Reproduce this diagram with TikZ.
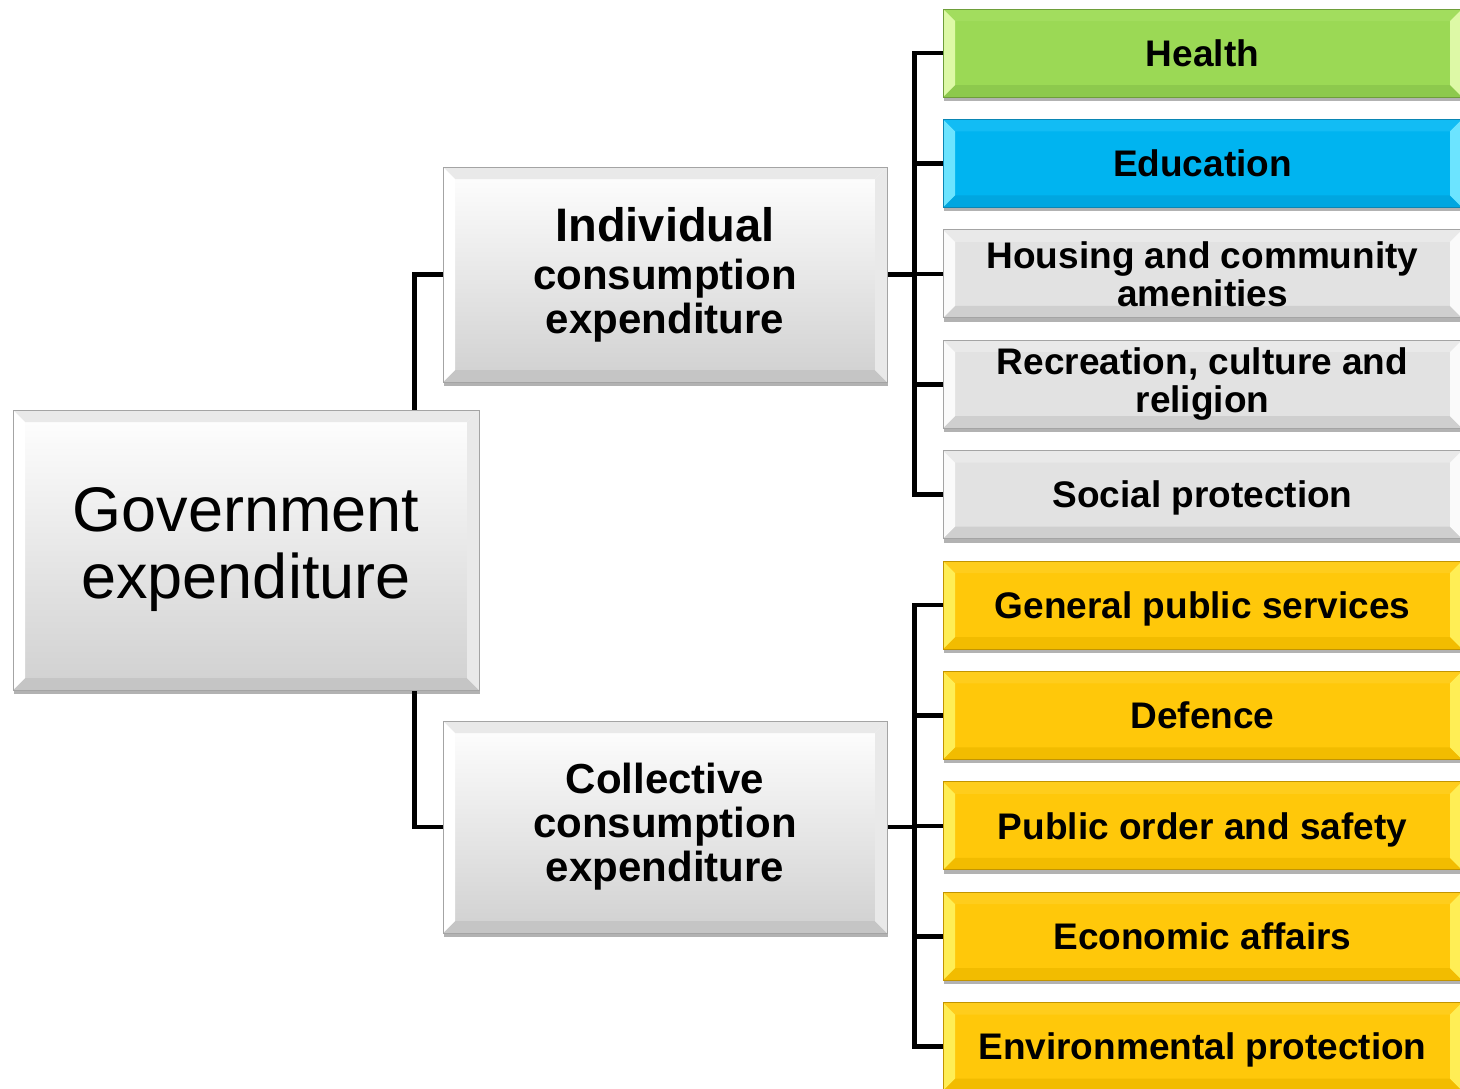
\documentclass[tikz,border=0pt]{standalone}
\usepackage{fontspec}
\setmainfont{Liberation Sans}
\usetikzlibrary{shadows}
\pgfdeclarelayer{bg}
\pgfsetlayers{bg,main}
% green
\definecolor{gBd}{HTML}{6E9E3A}
\definecolor{gM}{HTML}{9BD955}
\definecolor{gT}{HTML}{A2DD5E}
\definecolor{gL}{HTML}{DDF9A6}
\definecolor{gD}{HTML}{8DC94D}
% blue
\definecolor{bBd}{HTML}{0A86B4}
\definecolor{bM}{HTML}{00B4F0}
\definecolor{bT}{HTML}{12BCF4}
\definecolor{bL}{HTML}{6CE4FF}
\definecolor{bD}{HTML}{00A6E0}
% yellow
\definecolor{yBd}{HTML}{C29400}
\definecolor{yM}{HTML}{FFC80A}
\definecolor{yT}{HTML}{FFCD1C}
\definecolor{yL}{HTML}{FFEE55}
\definecolor{yD}{HTML}{F2BC00}
% grey
\definecolor{kBd}{HTML}{A4A4A4}
\definecolor{kM}{HTML}{E2E2E2}
\definecolor{kT}{HTML}{E9E9E9}
\definecolor{kL}{HTML}{FAFAFA}
\definecolor{kD}{HTML}{CFCFCF}
\definecolor{kBot}{HTML}{D0D0D0}
\begin{document}
\begin{tikzpicture}[x=1pt,y=-1pt,
  conn/.style={line width=4.6pt, black, line join=miter},
  bevel/.style n args={4}{path picture={
    \path (path picture bounding box.north west) coordinate (pNW)
          (path picture bounding box.north east) coordinate (pNE)
          (path picture bounding box.south west) coordinate (pSW)
          (path picture bounding box.south east) coordinate (pSE);
    \fill[#1] (pNW) -- (pNE) -- ([shift={(-12,12)}]pNE) -- ([shift={(12,12)}]pNW) -- cycle;
    \fill[#4] (pSW) -- (pSE) -- ([shift={(-12,-12)}]pSE) -- ([shift={(12,-12)}]pSW) -- cycle;
    \fill[#2] (pNW) -- ([shift={(12,12)}]pNW) -- ([shift={(12,-12)}]pSW) -- (pSW) -- cycle;
    \fill[#3] (pNE) -- ([shift={(-12,12)}]pNE) -- ([shift={(-12,-12)}]pSE) -- (pSE) -- cycle;
  }},
  boxbase/.style={rectangle, inner sep=0pt, align=center, line width=0.9pt,
    drop shadow={shadow xshift=1pt, shadow yshift=-4pt, opacity=0.3, fill=black}},
  bigbox/.style={boxbase, draw=kBd, top color=white, bottom color=kBot,
    bevel={kT}{white}{kT}{kD!95!black}},
  rbox/.style={boxbase, minimum width=519pt, minimum height=88pt,
    font=\bfseries\fontsize{37}{38}\selectfont},
  one/.style={text height=26.5pt, text depth=0pt},
  greenbox/.style={rbox, draw=gBd, fill=gM, bevel={gT}{gL}{gL}{gD}},
  bluebox/.style={rbox, draw=bBd, fill=bM, bevel={bT}{bL}{bL}{bD}},
  yellowbox/.style={rbox, draw=yBd, fill=yM, bevel={yT}{yL}{yL}{yD}},
  greybox/.style={rbox, draw=kBd, fill=kM, bevel={kT}{kL}{kL}{kD}},
]
\useasboundingbox (0,0) rectangle (1460,1088);
\clip (0,0) rectangle (1460,1088);

\node[bigbox, minimum width=466pt, minimum height=280pt,
  font=\fontsize{63}{67}\selectfont] (gov) at (246,550) {Government\\expenditure};
\node[bigbox, minimum width=444pt, minimum height=215pt,
  font=\bfseries\fontsize{42}{44}\selectfont] (ind) at (665,274.5)
  {{\fontsize{47}{49}\selectfont Individual}\\[4pt]consumption\\expenditure};
\node[bigbox, minimum width=444pt, minimum height=212pt,
  font=\bfseries\fontsize{42}{44}\selectfont] (col) at (665,827)
  {Collective\\consumption\\expenditure};

\node[greenbox, one] (health) at (1202.5,53) {Health};
\node[bluebox, one] (edu) at (1202.5,163.4) {Education};
\node[greybox] (housing) at (1202.5,273.8) {Housing and community\\amenities};
\node[greybox] (recr) at (1202.5,384.2) {Recreation, culture and\\religion};
\node[greybox, one] (social) at (1202.5,494.6) {Social protection};
\node[yellowbox, one] (gps) at (1202.5,605) {General public services};
\node[yellowbox, one] (def) at (1202.5,715.4) {Defence};
\node[yellowbox, one] (pos) at (1202.5,825.8) {Public order and safety};
\node[yellowbox, one] (eco) at (1202.5,936.2) {Economic affairs};
\node[yellowbox, one] (env) at (1202.5,1046.6) {Environmental protection};

\begin{pgfonlayer}{bg}
  \draw[conn] ([xshift=-65pt]gov.north east) |- (ind.west);
  \draw[conn] ([xshift=-65pt]gov.south east) |- (col.west);
  \coordinate (bi) at ([xshift=27pt]ind.east);
  \coordinate (bc) at ([xshift=27pt]col.east);
  \foreach \c in {health,edu,housing,recr,social}
    \draw[conn] (ind.east) -- (bi) |- (\c.west);
  \foreach \c in {gps,def,pos,eco,env}
    \draw[conn] (col.east) -- (bc) |- (\c.west);
\end{pgfonlayer}
\end{tikzpicture}
\end{document}
